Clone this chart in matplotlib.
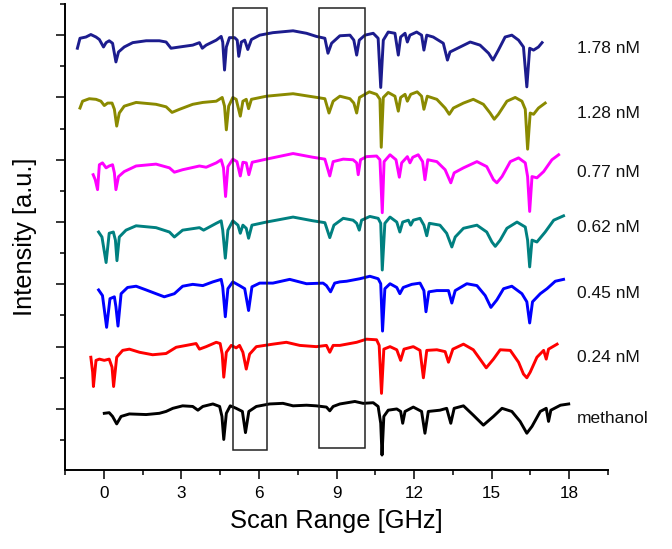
import matplotlib
matplotlib.use("Agg")
import matplotlib.pyplot as plt
from matplotlib.patches import Rectangle
from matplotlib.ticker import MultipleLocator

plt.rcParams['font.family'] = ['Liberation Sans', 'DejaVu Sans']

# ---------------- data (GHz, intensity a.u. relative to each trace's baseline) -------------
labels = ["1.78 nM", "1.28 nM", "0.77 nM", "0.62 nM", "0.45 nM", "0.24 nM", "methanol"]
colors = ["#1c1c8e", "#8a8a00", "#ff00ff", "#008080", "#0000ff", "#ff0000", "#000000"]
offsets = [6, 5, 4, 3, 2, 1, 0]

x_178 = [-1.02,-0.92,-0.69,-0.50,-0.30,-0.17,-0.01,0.09,0.21,0.34,0.47,0.57,0.79,1.12,1.64,2.15,2.41,2.60,2.93,3.44,3.70,3.81,3.96,4.35,4.54,4.60,4.67,4.74,4.86,5.06,5.16,5.22,5.32,5.45,5.57,5.71,6.03,6.54,7.32,7.84,8.22,8.55,8.67,8.81,9.13,9.52,9.67,9.78,9.88,10.10,10.42,10.61,10.71,10.81,11.0,11.26,11.39,11.48,11.65,11.74,11.84,12.10,12.29,12.38,12.49,12.74,13.13,13.29,13.39,13.78,14.17,14.55,14.88,15.05,15.26,15.52,15.78,16.04,16.23,16.36,16.47,16.62,16.81,16.95]
y_178 = [-0.21,-0.05,-0.03,0.01,-0.03,-0.07,-0.19,-0.12,-0.09,-0.13,-0.43,-0.27,-0.19,-0.12,-0.09,-0.09,-0.11,-0.21,-0.19,-0.16,-0.12,-0.21,-0.16,-0.08,-0.02,-0.11,-0.56,-0.19,-0.04,-0.04,-0.08,-0.34,-0.11,-0.08,-0.23,-0.07,0.0,0.04,0.07,0.03,-0.02,-0.05,-0.29,-0.13,-0.01,0.0,-0.08,-0.32,-0.08,0.0,0.03,-0.05,-0.84,-0.08,0.05,0.03,-0.32,-0.03,0.03,-0.11,0.0,0.05,0.0,-0.24,0.0,-0.03,-0.13,-0.40,-0.27,-0.19,-0.11,-0.16,-0.29,-0.40,-0.24,-0.03,0.0,-0.08,-0.19,-0.83,-0.21,-0.24,-0.19,-0.12]

x_128 = [-0.92,-0.82,-0.56,-0.30,-0.11,0.02,0.15,0.32,0.41,0.50,0.60,0.79,1.25,2.02,2.41,2.64,2.93,3.44,3.83,4.35,4.58,4.67,4.74,4.83,4.99,5.12,5.28,5.38,5.51,5.60,5.71,6.29,7.32,8.09,8.55,8.71,8.87,9.13,9.52,9.67,9.78,9.89,10.10,10.27,10.55,10.68,10.73,10.81,11.0,11.26,11.39,11.48,11.65,11.74,11.87,12.12,12.29,12.38,12.51,12.88,13.20,13.36,13.52,13.91,14.29,14.68,14.94,15.10,15.26,15.59,15.91,16.17,16.30,16.39,16.49,16.62,16.81,17.07]
y_128 = [-0.17,-0.06,-0.02,-0.03,-0.06,-0.13,-0.09,-0.09,-0.19,-0.46,-0.25,-0.14,-0.08,-0.11,-0.15,-0.24,-0.19,-0.11,-0.08,-0.06,0.0,-0.14,-0.52,-0.14,0.0,-0.03,-0.30,-0.06,-0.03,-0.18,-0.03,0.02,0.06,0.01,-0.02,-0.25,-0.06,0.02,-0.02,-0.09,-0.25,0.0,0.05,0.09,0.05,-0.03,-0.80,0.0,0.08,0.02,-0.22,0.0,0.05,-0.06,0.05,0.09,0.02,-0.19,0.02,-0.03,-0.17,-0.27,-0.17,-0.09,-0.03,-0.11,-0.25,-0.35,-0.27,-0.06,0.0,-0.06,-0.19,-0.83,-0.25,-0.27,-0.17,-0.09]

x_077 = [-0.41,-0.33,-0.24,-0.17,-0.05,0.09,0.21,0.34,0.41,0.47,0.57,0.79,1.25,2.02,2.54,2.73,3.05,3.70,3.96,4.35,4.54,4.63,4.71,4.80,4.99,5.15,5.28,5.38,5.51,5.61,5.74,6.29,7.32,8.09,8.55,8.74,8.87,9.26,9.64,9.78,9.84,9.93,10.16,10.55,10.68,10.77,10.84,11.07,11.30,11.43,11.52,11.74,11.84,11.95,12.16,12.33,12.42,12.53,12.88,13.20,13.42,13.55,13.91,14.43,14.81,15.07,15.20,15.40,15.72,16.04,16.30,16.39,16.47,16.56,16.75,17.01,17.33,17.59]
y_077 = [-0.24,-0.32,-0.48,-0.08,-0.05,-0.13,-0.10,-0.08,-0.21,-0.48,-0.27,-0.19,-0.10,-0.07,-0.13,-0.20,-0.16,-0.10,-0.12,-0.05,0.0,-0.13,-0.59,-0.11,0.01,-0.03,-0.26,-0.04,-0.05,-0.24,-0.04,0.01,0.10,0.04,0.01,-0.26,-0.03,0.01,0.0,-0.05,-0.24,0.0,0.05,0.06,0.0,-0.85,-0.03,0.08,0.0,-0.28,-0.05,0.05,-0.05,0.04,0.08,-0.03,-0.32,0.0,-0.03,-0.16,-0.37,-0.21,-0.13,-0.03,-0.11,-0.32,-0.37,-0.27,-0.03,0.03,-0.05,-0.27,-0.83,-0.27,-0.29,-0.19,0.0,0.08]

x_062 = [-0.20,-0.07,0.09,0.21,0.37,0.45,0.51,0.60,0.86,1.25,2.02,2.54,2.73,3.05,3.70,3.86,4.35,4.54,4.60,4.70,4.80,4.99,5.19,5.28,5.38,5.51,5.60,5.73,6.29,7.32,8.09,8.55,8.74,8.90,9.26,9.64,9.78,9.88,9.97,10.29,10.61,10.71,10.77,10.87,11.07,11.33,11.45,11.56,11.78,11.87,11.97,12.23,12.38,12.49,12.59,13.00,13.26,13.46,13.59,13.91,14.43,14.81,15.01,15.14,15.33,15.59,15.98,16.30,16.39,16.47,16.56,16.75,17.07,17.40,17.78]
y_062 = [-0.16,-0.24,-0.65,-0.18,-0.16,-0.29,-0.62,-0.24,-0.13,-0.06,-0.09,-0.16,-0.24,-0.13,-0.09,-0.13,-0.02,0.02,-0.13,-0.58,-0.13,0.02,-0.05,-0.18,-0.05,-0.10,-0.26,-0.05,0.0,0.08,0.02,-0.01,-0.25,-0.05,0.06,0.03,-0.02,-0.13,0.03,0.09,0.06,-0.02,-0.77,-0.02,0.08,0.0,-0.16,0.0,0.03,-0.05,0.03,0.06,-0.05,-0.22,-0.02,-0.05,-0.18,-0.40,-0.24,-0.10,-0.05,-0.16,-0.32,-0.39,-0.29,-0.10,0.0,-0.08,-0.29,-0.72,-0.29,-0.32,-0.16,0.03,0.10]

x_045 = [-0.20,-0.05,0.11,0.24,0.41,0.47,0.55,0.67,0.92,1.25,1.64,2.02,2.34,2.73,3.05,3.44,3.83,4.22,4.54,4.60,4.70,4.80,4.99,5.25,5.45,5.60,5.73,6.03,6.54,7.19,7.84,8.48,8.61,8.77,8.93,9.13,9.39,9.90,10.29,10.61,10.71,10.78,10.87,11.07,11.33,11.45,11.58,11.91,12.23,12.38,12.46,12.57,12.88,13.33,13.46,13.59,14.04,14.43,14.75,14.97,15.20,15.46,15.78,16.17,16.36,16.47,16.58,16.88,17.14,17.46,17.78]
y_045 = [-0.09,-0.18,-0.69,-0.23,-0.20,-0.36,-0.67,-0.15,-0.05,-0.03,-0.09,-0.15,-0.20,-0.15,-0.03,0.0,-0.02,0.04,0.08,-0.04,-0.52,-0.07,0.04,-0.02,-0.07,-0.42,-0.04,0.02,0.02,0.08,0.01,0.02,-0.02,-0.12,0.02,0.04,0.05,0.09,0.13,0.09,0.01,-0.75,-0.07,0.01,-0.05,-0.15,-0.05,0.0,0.02,-0.10,-0.44,-0.12,-0.10,-0.10,-0.30,-0.10,0.01,-0.02,-0.18,-0.37,-0.25,-0.07,-0.03,-0.15,-0.28,-0.62,-0.28,-0.15,-0.07,0.05,0.08]

x_024 = [-0.50,-0.43,-0.40,-0.30,-0.17,0.02,0.21,0.32,0.38,0.50,0.73,0.99,1.38,1.89,2.41,2.80,3.19,3.57,3.70,3.96,4.35,4.50,4.58,4.64,4.74,4.93,5.12,5.25,5.38,5.51,5.64,5.90,6.54,7.06,7.58,8.22,8.61,8.74,8.87,9.13,9.39,9.78,10.16,10.55,10.65,10.74,10.83,11.07,11.33,11.48,11.61,11.97,12.23,12.36,12.49,12.88,13.20,13.33,13.50,13.91,14.29,14.55,14.79,15.07,15.33,15.72,16.04,16.23,16.36,16.49,16.75,17.01,17.11,17.20,17.53]
y_024 = [-0.17,-0.41,-0.64,-0.22,-0.20,-0.22,-0.20,-0.33,-0.64,-0.17,-0.06,-0.04,-0.09,-0.13,-0.11,-0.01,0.02,0.05,-0.04,0.0,0.07,0.05,-0.12,-0.49,-0.09,0.02,-0.02,0.02,-0.09,-0.36,-0.12,0.0,0.04,0.07,0.02,0.0,0.02,-0.09,0.02,0.02,0.04,0.07,0.12,0.11,0.02,-0.75,-0.04,0.0,-0.05,-0.22,-0.04,0.0,-0.06,-0.50,-0.06,-0.05,-0.08,-0.25,-0.04,0.04,-0.05,-0.20,-0.34,-0.20,-0.05,-0.06,-0.25,-0.44,-0.50,-0.41,-0.17,-0.06,-0.20,-0.04,0.04]

x_meoh = [0.02,0.21,0.34,0.50,0.67,0.99,1.64,2.15,2.41,2.67,3.05,3.44,3.64,3.83,4.22,4.48,4.57,4.64,4.74,4.89,5.12,5.36,5.48,5.61,5.90,6.41,6.93,7.32,7.84,8.22,8.61,8.74,8.87,9.13,9.71,10.03,10.42,10.61,10.71,10.76,10.83,11.0,11.33,11.48,11.56,11.65,11.97,12.29,12.42,12.55,13.00,13.26,13.42,13.55,13.91,14.29,14.68,15.07,15.40,15.78,16.10,16.36,16.56,16.88,17.11,17.20,17.29,17.66,17.98]
y_meoh = [-0.07,-0.06,-0.12,-0.24,-0.12,-0.08,-0.09,-0.07,-0.04,0.01,0.05,0.04,-0.02,0.04,0.08,0.04,-0.12,-0.49,-0.07,0.05,0.01,-0.04,-0.38,-0.04,0.04,0.08,0.09,0.05,0.06,0.05,0.03,-0.03,0.04,0.08,0.12,0.09,0.10,0.04,-0.23,-0.74,-0.12,-0.02,0.0,-0.04,-0.23,-0.04,0.03,-0.04,-0.39,-0.04,-0.02,0.01,-0.23,0.01,0.05,-0.10,-0.26,-0.12,0.01,-0.04,-0.20,-0.39,-0.28,-0.04,0.01,-0.20,-0.02,0.06,0.08]

xs = [x_178, x_128, x_077, x_062, x_045, x_024, x_meoh]
ys = [y_178, y_128, y_077, y_062, y_045, y_024, y_meoh]

# highlighted regions (GHz start, GHz end, intensity bottom, intensity top)
boxes = [(5.00, 6.32, -0.66, 6.43), (8.31, 10.10, -0.63, 6.43)]

label_x = 18.3
label_dy = [-0.21, -0.25, -0.20, -0.08, -0.14, -0.18, -0.16]

# ---------------- figure ----------------
fig = plt.figure(figsize=(6.72, 5.49), dpi=100)
ax = fig.add_axes([0.0967, 0.1439, 0.8081, 0.8488])

for x, y, c, off in zip(xs, ys, colors, offsets):
    ax.plot(x, [v + off for v in y], color=c, lw=2.1, solid_joinstyle='round')

for (x0, x1, y0, y1) in boxes:
    ax.add_patch(Rectangle((x0, y0), x1 - x0, y1 - y0, fill=False,
                           edgecolor='#222222', lw=1.1, zorder=5))

for lab, off, dy in zip(labels, offsets, label_dy):
    ax.text(label_x, off + dy, lab, fontsize=12.5, va='center', ha='left',
            color='#111111', clip_on=False)

ax.set_xlim(-1.5, 19.5)
ax.set_ylim(-0.98, 6.5)
ax.xaxis.set_major_locator(MultipleLocator(3))
ax.xaxis.set_minor_locator(MultipleLocator(1.5))
ax.yaxis.set_major_locator(MultipleLocator(1))
ax.yaxis.set_minor_locator(MultipleLocator(0.5))
ax.set_yticklabels([])
ax.tick_params(which='major', length=6.5, width=1.1, direction='out')
ax.tick_params(which='minor', length=3.3, width=1.1, direction='out')
ax.tick_params(axis='x', labelsize=12.3, pad=5)
for s in ['top', 'right']:
    ax.spines[s].set_visible(False)
for s in ['left', 'bottom']:
    ax.spines[s].set_linewidth(1.4)

ax.set_xlabel('Scan Range [GHz]', fontsize=18.4, labelpad=6)
ax.set_ylabel('Intensity [a.u.]', fontsize=18.4, labelpad=10)

fig.savefig('out.png', dpi=100)
